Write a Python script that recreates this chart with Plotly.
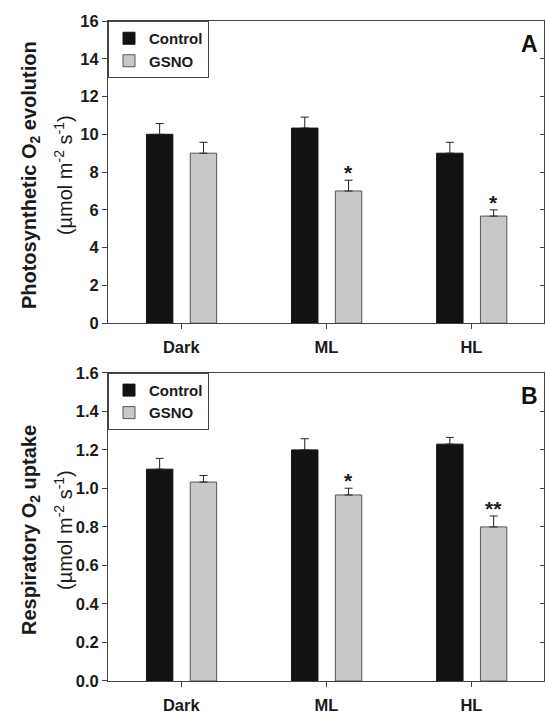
import plotly.graph_objects as go

categories = ["Dark", "ML", "HL"]

# Panel A: photosynthetic O2 evolution
a_control = [10.0, 10.33, 9.0]
a_control_err = [0.57, 0.58, 0.58]
a_gsno = [9.0, 7.0, 5.67]
a_gsno_err = [0.58, 0.57, 0.33]
a_sig = ["", "*", "*"]

# Panel B: respiratory O2 uptake
b_control = [1.10, 1.20, 1.23]
b_control_err = [0.056, 0.058, 0.035]
b_gsno = [1.033, 0.966, 0.80]
b_gsno_err = [0.034, 0.035, 0.057]
b_sig = ["", "*", "**"]

a_ticks = [0, 2, 4, 6, 8, 10, 12, 14, 16]
b_ticks = [0.0, 0.2, 0.4, 0.6, 0.8, 1.0, 1.2, 1.4, 1.6]
b_ticktext = [f"{v:.1f}" for v in b_ticks]

FONT = "Liberation Sans, Arial, sans-serif"
BLACK = "#121212"
GREY = "#c8c8c8"
GREY_LINE = "#555555"
W = 546
H = 715
ML_, MR_, MT_, MB_ = 108, 1, 21, 30

BAR_W = 0.182
OFF_C = -0.24
OFF_G = 0.062

fig = go.Figure()

def add_panel(ctrl, ctrl_err, gsno, gsno_err, xa, ya, legend):
    fig.add_trace(go.Bar(
        x=categories, y=ctrl, name="<b>Control</b>", width=BAR_W, offset=OFF_C,
        marker=dict(color=BLACK, line=dict(color=BLACK, width=1)),
        error_y=dict(type="data", array=ctrl_err, arrayminus=[0] * len(ctrl_err),
                     symmetric=False, color="#222222", thickness=1, width=4),
        xaxis=xa, yaxis=ya, legend=legend, showlegend=True))
    fig.add_trace(go.Bar(
        x=categories, y=gsno, name="<b>GSNO</b>", width=BAR_W, offset=OFF_G,
        marker=dict(color=GREY, line=dict(color=GREY_LINE, width=1)),
        error_y=dict(type="data", array=gsno_err, arrayminus=[0] * len(gsno_err),
                     symmetric=False, color="#222222", thickness=1, width=4),
        xaxis=xa, yaxis=ya, legend=legend, showlegend=True))

add_panel(a_control, a_control_err, a_gsno, a_gsno_err, "x", "y", "legend")
add_panel(b_control, b_control_err, b_gsno, b_gsno_err, "x2", "y2", "legend2")

# invisible traces so the right-side (inside tick) axes render
fig.add_trace(go.Scatter(x=[categories[0]], y=[0], yaxis="y3", xaxis="x",
                         mode="markers", marker=dict(opacity=0), showlegend=False,
                         hoverinfo="skip"))
fig.add_trace(go.Scatter(x=[categories[0]], y=[0], yaxis="y4", xaxis="x2",
                         mode="markers", marker=dict(opacity=0), showlegend=False,
                         hoverinfo="skip"))

plot_h = H - MT_ - MB_
domA = [(685 - 325) / plot_h, 1.0]
domB = [0.0, (685 - 375) / plot_h]

xcommon = dict(
    range=[-0.505, 2.5], showline=True, linecolor="#444444", linewidth=1,
    mirror=True, ticks="outside", ticklen=5, tickcolor="#444444",
    tickfont=dict(family=FONT, size=16.5, color="#1a1a1a"), ticklabelstandoff=4,
    showgrid=False, zeroline=False, fixedrange=True,
)
ycommon = dict(
    showline=True, linecolor="#444444", linewidth=1, mirror=True,
    ticks="outside", ticklen=5, tickcolor="#444444",
    tickfont=dict(family=FONT, size=16.5, color="#1a1a1a"),
    showgrid=False, zeroline=False,
)
legcommon = dict(
    x=0, xref="paper", yref="paper", xanchor="left", yanchor="top",
    bgcolor="white", bordercolor="#444444", borderwidth=1,
    font=dict(family=FONT, size=15, color="#1a1a1a"),
    tracegroupgap=0, itemwidth=30,
)

fig.update_layout(
    width=W, height=H,
    margin=dict(l=ML_, r=MR_, t=MT_, b=MB_),
    paper_bgcolor="white", plot_bgcolor="white",
    barmode="overlay",
    xaxis=dict(domain=[0, 1], anchor="y",
               tickvals=categories, ticktext=[f"<b>{c}</b>" for c in categories], **xcommon),
    yaxis=dict(domain=domA, anchor="x", range=[0, 16], tickvals=a_ticks,
               ticktext=[f"<b>{v}</b>" for v in a_ticks], **ycommon),
    xaxis2=dict(domain=[0, 1], anchor="y2",
                tickvals=categories, ticktext=[f"<b>{c}</b>" for c in categories], **xcommon),
    yaxis2=dict(domain=domB, anchor="x2", range=[0, 1.6], tickvals=b_ticks,
                ticktext=[f"<b>{t}</b>" for t in b_ticktext], **ycommon),
    yaxis3=dict(overlaying="y", side="right", anchor="x", range=[0, 16],
                tickvals=a_ticks, ticks="inside", ticklen=4, tickcolor="#444444",
                showticklabels=False, showgrid=False, zeroline=False, showline=False),
    yaxis4=dict(overlaying="y2", side="right", anchor="x2", range=[0, 1.6],
                tickvals=b_ticks, ticks="inside", ticklen=4, tickcolor="#444444",
                showticklabels=False, showgrid=False, zeroline=False, showline=False),
    legend=dict(y=domA[1], **legcommon),
    legend2=dict(y=domB[1], **legcommon),
    showlegend=True,
)

annotations = []
# significance markers
for vals, errs, sig, xr, yr in [(a_gsno, a_gsno_err, a_sig, "x", "y"),
                                (b_gsno, b_gsno_err, b_sig, "x2", "y2")]:
    for c, v, e, s in zip(categories, vals, errs, sig):
        if s:
            annotations.append(dict(
                x=c, y=v + e, xref=xr, yref=yr, text=f"<b>{s}</b>", showarrow=False,
                xanchor="center", yanchor="bottom", xshift=22, yshift=-6,
                font=dict(family=FONT, size=21, color="#1a1a1a")))

# panel letters
for letter, xr, yr in [("A", "x domain", "y domain"), ("B", "x2 domain", "y2 domain")]:
    annotations.append(dict(
        x=0.99, y=0.975, xref=xr, yref=yr,
        text=f"<b>{letter}</b>", showarrow=False, xanchor="right", yanchor="top",
        font=dict(family=FONT, size=23, color="#111111")))

# y-axis titles as two rotated lines each
titles = [
    ("Photosynthetic O<sub>2</sub> evolution", "(µmol m<sup>-2</sup> s<sup>-1</sup>)", "y domain"),
    ("Respiratory O<sub>2</sub> uptake", "(µmol m<sup>-2</sup> s<sup>-1</sup>)", "y2 domain"),
]
for l1, l2, yr in titles:
    annotations.append(dict(
        x=0, y=0.49, xref="paper", yref=yr, text=f"<b>{l1}</b>", showarrow=False,
        textangle=-90, xanchor="center", yanchor="middle", xshift=-78,
        font=dict(family=FONT, size=20, color="#1a1a1a")))
    annotations.append(dict(
        x=0, y=0.49, xref="paper", yref=yr, text=l2, showarrow=False,
        textangle=-90, xanchor="center", yanchor="middle", xshift=-45,
        font=dict(family=FONT, size=20, color="#1a1a1a")))

fig.update_layout(annotations=annotations)

fig.write_html("out.html", config={"displayModeBar": False},
               post_script="document.body.style.margin='0';document.body.style.overflow='hidden';")
